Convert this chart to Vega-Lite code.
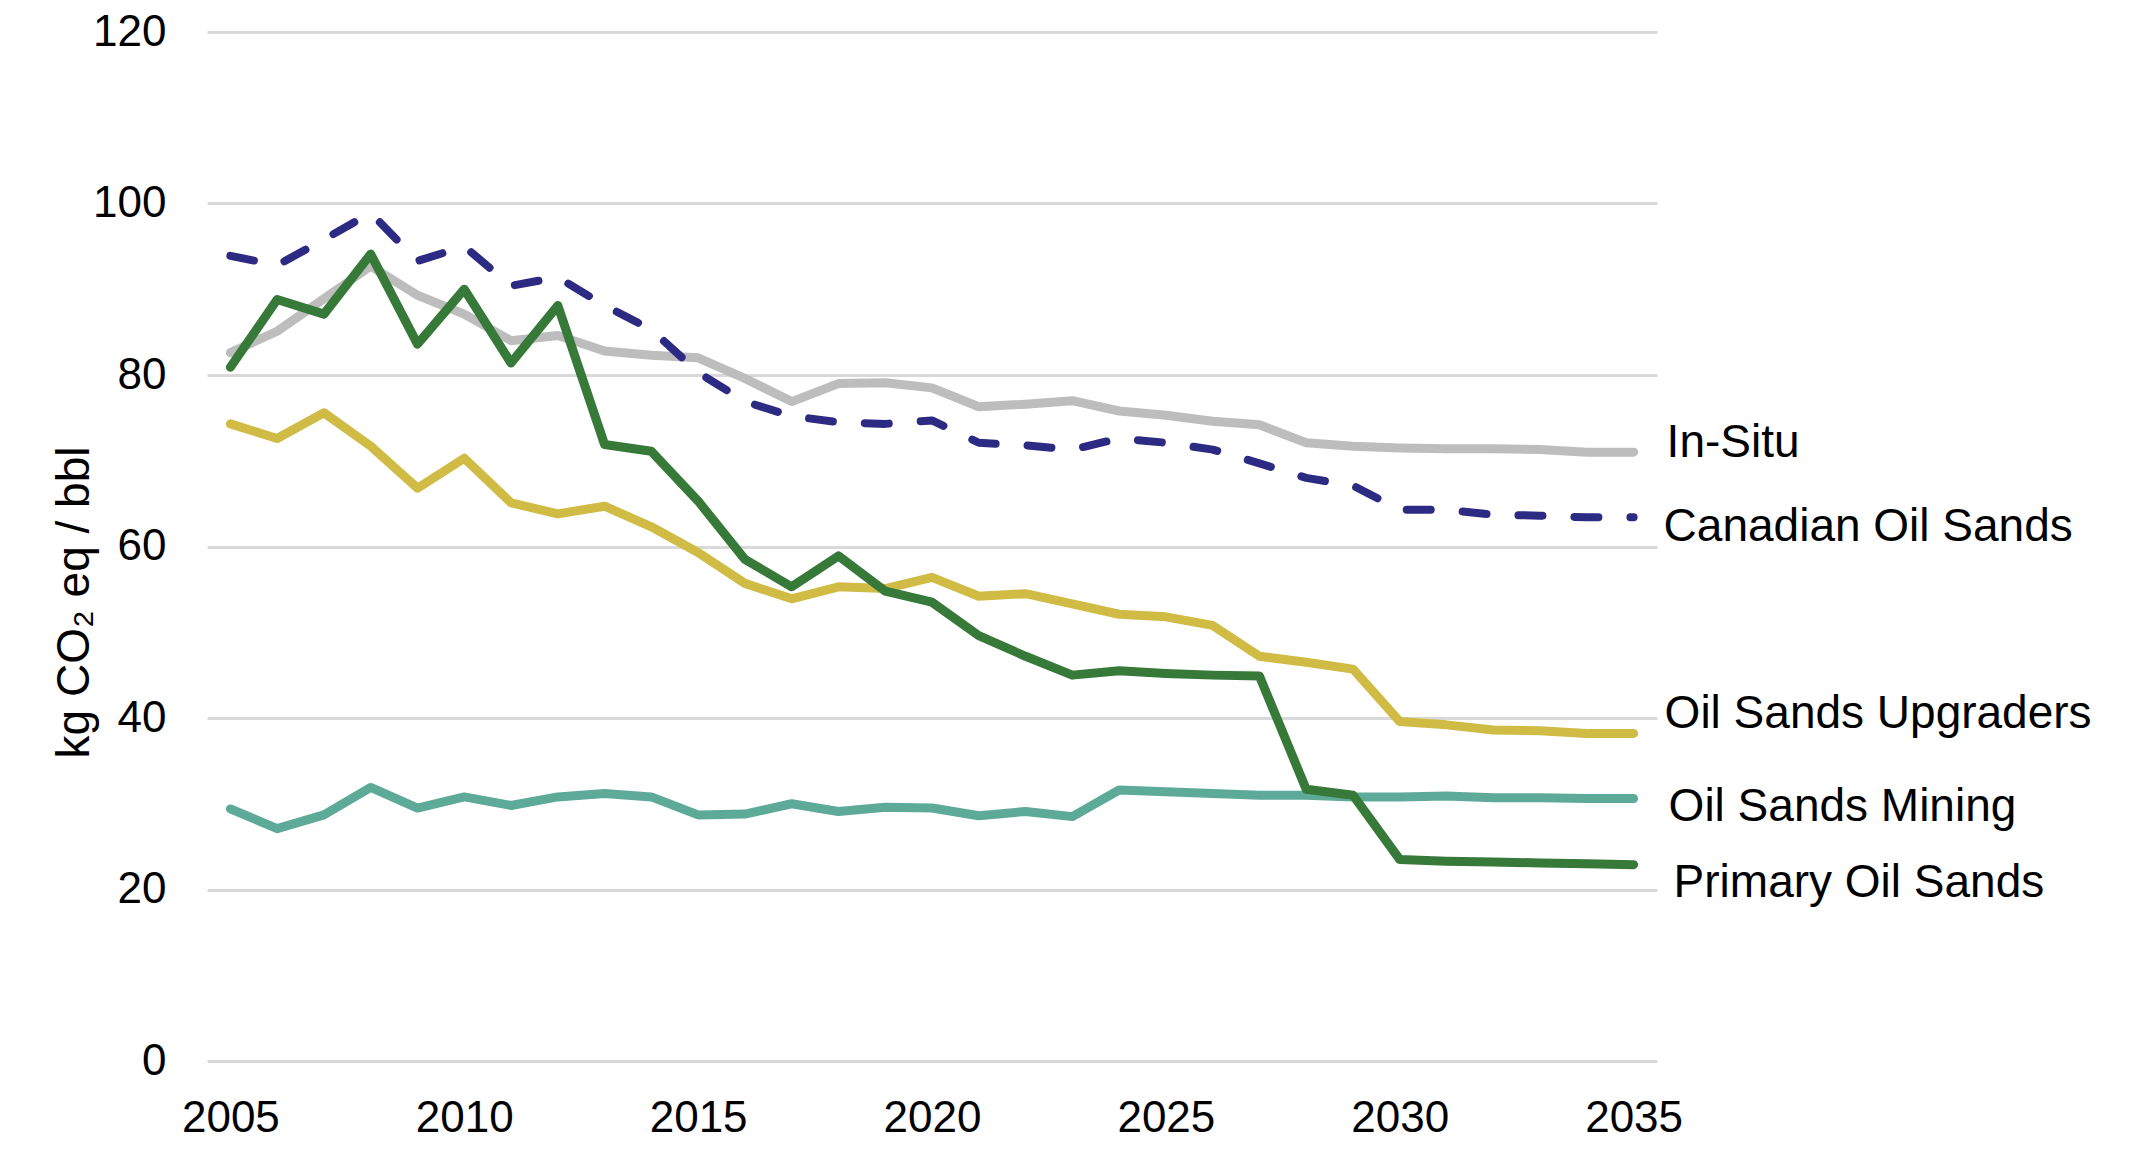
{
  "$schema": "https://vega.github.io/schema/vega-lite/v6.json",
  "width": 1450,
  "height": 1029,
  "autosize": "none",
  "padding": {"left": 207, "top": 32, "right": 488, "bottom": 94},
  "background": "white",
  "config": {
    "view": {"stroke": null},
    "font": "Liberation Sans",
    "axis": {"labelFont": "Liberation Sans", "titleFont": "Liberation Sans", "labelColor": "#000000", "titleColor": "#000000"}
  },
  "data": {"values": [
    {"year":2005,"series":"In-Situ","value":82.6},{"year":2006,"series":"In-Situ","value":85.1},{"year":2007,"series":"In-Situ","value":88.9},{"year":2008,"series":"In-Situ","value":92.7},{"year":2009,"series":"In-Situ","value":89.3},{"year":2010,"series":"In-Situ","value":87.1},{"year":2011,"series":"In-Situ","value":84.0},{"year":2012,"series":"In-Situ","value":84.6},{"year":2013,"series":"In-Situ","value":82.8},{"year":2014,"series":"In-Situ","value":82.3},{"year":2015,"series":"In-Situ","value":82.0},{"year":2016,"series":"In-Situ","value":79.6},{"year":2017,"series":"In-Situ","value":76.9},{"year":2018,"series":"In-Situ","value":79.0},{"year":2019,"series":"In-Situ","value":79.1},{"year":2020,"series":"In-Situ","value":78.5},{"year":2021,"series":"In-Situ","value":76.3},{"year":2022,"series":"In-Situ","value":76.6},{"year":2023,"series":"In-Situ","value":77.0},{"year":2024,"series":"In-Situ","value":75.8},{"year":2025,"series":"In-Situ","value":75.3},{"year":2026,"series":"In-Situ","value":74.6},{"year":2027,"series":"In-Situ","value":74.2},{"year":2028,"series":"In-Situ","value":72.1},{"year":2029,"series":"In-Situ","value":71.7},{"year":2030,"series":"In-Situ","value":71.5},{"year":2031,"series":"In-Situ","value":71.4},{"year":2032,"series":"In-Situ","value":71.4},{"year":2033,"series":"In-Situ","value":71.3},{"year":2034,"series":"In-Situ","value":71.0},{"year":2035,"series":"In-Situ","value":71.0},
    {"year":2005,"series":"Canadian Oil Sands","value":93.9},{"year":2006,"series":"Canadian Oil Sands","value":92.8},{"year":2007,"series":"Canadian Oil Sands","value":95.8},{"year":2008,"series":"Canadian Oil Sands","value":98.9},{"year":2009,"series":"Canadian Oil Sands","value":93.3},{"year":2010,"series":"Canadian Oil Sands","value":95.0},{"year":2011,"series":"Canadian Oil Sands","value":90.4},{"year":2012,"series":"Canadian Oil Sands","value":91.4},{"year":2013,"series":"Canadian Oil Sands","value":88.1},{"year":2014,"series":"Canadian Oil Sands","value":85.3},{"year":2015,"series":"Canadian Oil Sands","value":80.3},{"year":2016,"series":"Canadian Oil Sands","value":76.9},{"year":2017,"series":"Canadian Oil Sands","value":75.2},{"year":2018,"series":"Canadian Oil Sands","value":74.5},{"year":2019,"series":"Canadian Oil Sands","value":74.3},{"year":2020,"series":"Canadian Oil Sands","value":74.7},{"year":2021,"series":"Canadian Oil Sands","value":72.1},{"year":2022,"series":"Canadian Oil Sands","value":71.8},{"year":2023,"series":"Canadian Oil Sands","value":71.3},{"year":2024,"series":"Canadian Oil Sands","value":72.6},{"year":2025,"series":"Canadian Oil Sands","value":72.1},{"year":2026,"series":"Canadian Oil Sands","value":71.3},{"year":2027,"series":"Canadian Oil Sands","value":69.7},{"year":2028,"series":"Canadian Oil Sands","value":68.0},{"year":2029,"series":"Canadian Oil Sands","value":67.1},{"year":2030,"series":"Canadian Oil Sands","value":64.3},{"year":2031,"series":"Canadian Oil Sands","value":64.3},{"year":2032,"series":"Canadian Oil Sands","value":63.7},{"year":2033,"series":"Canadian Oil Sands","value":63.6},{"year":2034,"series":"Canadian Oil Sands","value":63.4},{"year":2035,"series":"Canadian Oil Sands","value":63.4},
    {"year":2005,"series":"Oil Sands Upgraders","value":74.3},{"year":2006,"series":"Oil Sands Upgraders","value":72.6},{"year":2007,"series":"Oil Sands Upgraders","value":75.6},{"year":2008,"series":"Oil Sands Upgraders","value":71.7},{"year":2009,"series":"Oil Sands Upgraders","value":66.8},{"year":2010,"series":"Oil Sands Upgraders","value":70.3},{"year":2011,"series":"Oil Sands Upgraders","value":65.1},{"year":2012,"series":"Oil Sands Upgraders","value":63.8},{"year":2013,"series":"Oil Sands Upgraders","value":64.7},{"year":2014,"series":"Oil Sands Upgraders","value":62.3},{"year":2015,"series":"Oil Sands Upgraders","value":59.3},{"year":2016,"series":"Oil Sands Upgraders","value":55.7},{"year":2017,"series":"Oil Sands Upgraders","value":53.9},{"year":2018,"series":"Oil Sands Upgraders","value":55.3},{"year":2019,"series":"Oil Sands Upgraders","value":55.1},{"year":2020,"series":"Oil Sands Upgraders","value":56.4},{"year":2021,"series":"Oil Sands Upgraders","value":54.2},{"year":2022,"series":"Oil Sands Upgraders","value":54.5},{"year":2023,"series":"Oil Sands Upgraders","value":53.3},{"year":2024,"series":"Oil Sands Upgraders","value":52.1},{"year":2025,"series":"Oil Sands Upgraders","value":51.8},{"year":2026,"series":"Oil Sands Upgraders","value":50.8},{"year":2027,"series":"Oil Sands Upgraders","value":47.2},{"year":2028,"series":"Oil Sands Upgraders","value":46.5},{"year":2029,"series":"Oil Sands Upgraders","value":45.7},{"year":2030,"series":"Oil Sands Upgraders","value":39.6},{"year":2031,"series":"Oil Sands Upgraders","value":39.2},{"year":2032,"series":"Oil Sands Upgraders","value":38.6},{"year":2033,"series":"Oil Sands Upgraders","value":38.5},{"year":2034,"series":"Oil Sands Upgraders","value":38.2},{"year":2035,"series":"Oil Sands Upgraders","value":38.2},
    {"year":2005,"series":"Oil Sands Mining","value":29.4},{"year":2006,"series":"Oil Sands Mining","value":27.1},{"year":2007,"series":"Oil Sands Mining","value":28.7},{"year":2008,"series":"Oil Sands Mining","value":31.9},{"year":2009,"series":"Oil Sands Mining","value":29.5},{"year":2010,"series":"Oil Sands Mining","value":30.8},{"year":2011,"series":"Oil Sands Mining","value":29.8},{"year":2012,"series":"Oil Sands Mining","value":30.8},{"year":2013,"series":"Oil Sands Mining","value":31.2},{"year":2014,"series":"Oil Sands Mining","value":30.8},{"year":2015,"series":"Oil Sands Mining","value":28.7},{"year":2016,"series":"Oil Sands Mining","value":28.8},{"year":2017,"series":"Oil Sands Mining","value":30.0},{"year":2018,"series":"Oil Sands Mining","value":29.1},{"year":2019,"series":"Oil Sands Mining","value":29.6},{"year":2020,"series":"Oil Sands Mining","value":29.5},{"year":2021,"series":"Oil Sands Mining","value":28.6},{"year":2022,"series":"Oil Sands Mining","value":29.1},{"year":2023,"series":"Oil Sands Mining","value":28.5},{"year":2024,"series":"Oil Sands Mining","value":31.6},{"year":2025,"series":"Oil Sands Mining","value":31.4},{"year":2026,"series":"Oil Sands Mining","value":31.2},{"year":2027,"series":"Oil Sands Mining","value":31.0},{"year":2028,"series":"Oil Sands Mining","value":31.0},{"year":2029,"series":"Oil Sands Mining","value":30.8},{"year":2030,"series":"Oil Sands Mining","value":30.8},{"year":2031,"series":"Oil Sands Mining","value":30.9},{"year":2032,"series":"Oil Sands Mining","value":30.7},{"year":2033,"series":"Oil Sands Mining","value":30.7},{"year":2034,"series":"Oil Sands Mining","value":30.6},{"year":2035,"series":"Oil Sands Mining","value":30.6},
    {"year":2005,"series":"Primary Oil Sands","value":80.9},{"year":2006,"series":"Primary Oil Sands","value":88.8},{"year":2007,"series":"Primary Oil Sands","value":87.1},{"year":2008,"series":"Primary Oil Sands","value":94.1},{"year":2009,"series":"Primary Oil Sands","value":83.6},{"year":2010,"series":"Primary Oil Sands","value":90.0},{"year":2011,"series":"Primary Oil Sands","value":81.4},{"year":2012,"series":"Primary Oil Sands","value":88.1},{"year":2013,"series":"Primary Oil Sands","value":71.9},{"year":2014,"series":"Primary Oil Sands","value":71.1},{"year":2015,"series":"Primary Oil Sands","value":65.3},{"year":2016,"series":"Primary Oil Sands","value":58.5},{"year":2017,"series":"Primary Oil Sands","value":55.3},{"year":2018,"series":"Primary Oil Sands","value":58.9},{"year":2019,"series":"Primary Oil Sands","value":54.8},{"year":2020,"series":"Primary Oil Sands","value":53.5},{"year":2021,"series":"Primary Oil Sands","value":49.6},{"year":2022,"series":"Primary Oil Sands","value":47.2},{"year":2023,"series":"Primary Oil Sands","value":45.0},{"year":2024,"series":"Primary Oil Sands","value":45.5},{"year":2025,"series":"Primary Oil Sands","value":45.2},{"year":2026,"series":"Primary Oil Sands","value":45.0},{"year":2027,"series":"Primary Oil Sands","value":44.9},{"year":2028,"series":"Primary Oil Sands","value":31.7},{"year":2029,"series":"Primary Oil Sands","value":31.0},{"year":2030,"series":"Primary Oil Sands","value":23.5},{"year":2031,"series":"Primary Oil Sands","value":23.3},{"year":2032,"series":"Primary Oil Sands","value":23.2},{"year":2033,"series":"Primary Oil Sands","value":23.1},{"year":2034,"series":"Primary Oil Sands","value":23.0},{"year":2035,"series":"Primary Oil Sands","value":22.9}
  ]},
  "encoding": {
    "x": {"field": "year", "type": "quantitative",
      "scale": {"domain": [2004.5, 2035.5], "nice": false, "zero": false},
      "axis": {"values": [2005, 2010, 2015, 2020, 2025, 2030, 2035], "format": "d", "title": null, "grid": false, "domain": false, "ticks": false, "labelFontSize": 44, "labelPadding": 35, "labelFlush": false}},
    "y": {"field": "value", "type": "quantitative",
      "scale": {"domain": [0, 120], "nice": false},
      "axis": {"values": [0, 20, 40, 60, 80, 100, 120], "title": "kg CO₂ eq / bbl", "titleFontSize": 46, "titleFontWeight": "normal", "titleAngle": -90, "titleX": -119, "titleY": 570, "titleAlign": "center", "titleBaseline": "alphabetic", "grid": true, "gridColor": "#D9D9D9", "gridWidth": 3, "domain": false, "ticks": false, "labelFontSize": 44, "labelPadding": 41}}
  },
  "layer": [
    {"transform": [{"filter": "datum.series === 'In-Situ'"}], "mark": {"type": "line", "color": "#BDBDBD", "strokeWidth": 9, "strokeCap": "round", "strokeJoin": "round"}},
    {"transform": [{"filter": "datum.series === 'Oil Sands Upgraders'"}], "mark": {"type": "line", "color": "#D0BC45", "strokeWidth": 9, "strokeCap": "round", "strokeJoin": "round"}},
    {"transform": [{"filter": "datum.series === 'Oil Sands Mining'"}], "mark": {"type": "line", "color": "#5EAA99", "strokeWidth": 9, "strokeCap": "round", "strokeJoin": "round"}},
    {"transform": [{"filter": "datum.series === 'Canadian Oil Sands'"}], "mark": {"type": "line", "color": "#2D2A84", "strokeWidth": 8, "strokeCap": "round", "strokeJoin": "round", "strokeDash": [24, 32]}},
    {"transform": [{"filter": "datum.series === 'Primary Oil Sands'"}], "mark": {"type": "line", "color": "#367939", "strokeWidth": 9, "strokeCap": "round", "strokeJoin": "round"}},
    {"transform": [{"filter": "datum.series === 'In-Situ' && datum.year === 2035"}], "mark": {"type": "text", "align": "left", "baseline": "alphabetic", "dx": 33, "dy": 5, "fontSize": 46, "font": "Liberation Sans", "color": "#000000"}, "encoding": {"text": {"field": "series"}}},
    {"transform": [{"filter": "datum.series === 'Canadian Oil Sands' && datum.year === 2035"}], "mark": {"type": "text", "align": "left", "baseline": "alphabetic", "dx": 30, "dy": 24, "fontSize": 46, "font": "Liberation Sans", "color": "#000000"}, "encoding": {"text": {"field": "series"}}},
    {"transform": [{"filter": "datum.series === 'Oil Sands Upgraders' && datum.year === 2035"}], "mark": {"type": "text", "align": "left", "baseline": "alphabetic", "dx": 31, "dy": -5, "fontSize": 46, "font": "Liberation Sans", "color": "#000000"}, "encoding": {"text": {"field": "series"}}},
    {"transform": [{"filter": "datum.series === 'Oil Sands Mining' && datum.year === 2035"}], "mark": {"type": "text", "align": "left", "baseline": "alphabetic", "dx": 35, "dy": 22, "fontSize": 46, "font": "Liberation Sans", "color": "#000000"}, "encoding": {"text": {"field": "series"}}},
    {"transform": [{"filter": "datum.series === 'Primary Oil Sands' && datum.year === 2035"}], "mark": {"type": "text", "align": "left", "baseline": "alphabetic", "dx": 40, "dy": 32, "fontSize": 46, "font": "Liberation Sans", "color": "#000000"}, "encoding": {"text": {"field": "series"}}}
  ]
}
